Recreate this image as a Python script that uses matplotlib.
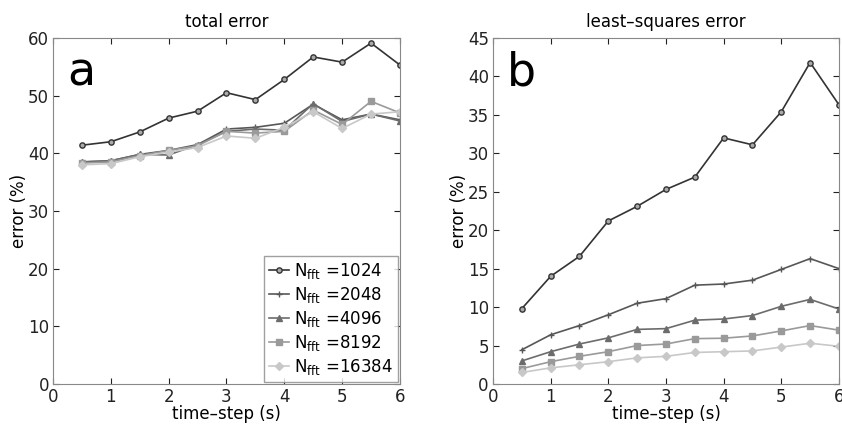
import matplotlib
matplotlib.use("Agg")
import matplotlib.pyplot as plt

t = [0.5, 1, 1.5, 2, 2.5, 3, 3.5, 4, 4.5, 5, 5.5, 6]
nfft = [1024, 2048, 4096, 8192, 16384]

total_1024 = [41.4, 42.0, 43.7, 46.1, 47.3, 50.5, 49.3, 52.8, 56.7, 55.8, 59.1, 55.3]
total_2048 = [38.5, 38.7, 39.8, 40.5, 41.5, 44.2, 44.5, 45.2, 48.5, 45.8, 46.8, 45.8]
total_4096 = [38.5, 38.7, 39.8, 39.7, 41.5, 43.8, 44.2, 44.0, 48.6, 45.5, 46.8, 45.6]
total_8192 = [38.3, 38.5, 39.6, 40.5, 41.3, 43.8, 43.5, 43.8, 47.5, 45.0, 49.0, 47.0]
total_16384 = [38.0, 38.2, 39.4, 40.2, 41.0, 43.0, 42.6, 44.5, 47.2, 44.3, 46.8, 47.2]

ls_1024 = [9.8, 14.0, 16.6, 21.2, 23.1, 25.3, 26.9, 32.0, 31.1, 35.4, 41.8, 36.3]
ls_2048 = [4.45, 6.4, 7.6, 9.0, 10.5, 11.1, 12.85, 13.0, 13.5, 14.9, 16.3, 15.0]
ls_4096 = [3.0, 4.2, 5.2, 6.0, 7.1, 7.2, 8.3, 8.45, 8.9, 10.1, 11.0, 9.75]
ls_8192 = [2.0, 2.9, 3.6, 4.2, 5.0, 5.2, 5.9, 5.95, 6.25, 6.9, 7.6, 7.0]
ls_16384 = [1.5, 2.1, 2.5, 2.9, 3.4, 3.6, 4.1, 4.2, 4.3, 4.8, 5.3, 4.9]

total = [total_1024, total_2048, total_4096, total_8192, total_16384]
lsq = [ls_1024, ls_2048, ls_4096, ls_8192, ls_16384]

COLORS = ["#333333", "#575757", "#6c6c6c", "#9a9a9a", "#c8c8c8"]
MARKERS = ["o", "+", "^", "s", "D"]

fig = plt.figure(figsize=(8.42, 4.26), dpi=100)
ax1 = fig.add_axes([0.063, 0.0986, 0.412, 0.8124])
ax2 = fig.add_axes([0.5855, 0.0986, 0.4109, 0.8124])


def _panel(ax, data, title, letter, ymax, yticks):
    for vals, n, c, m in zip(data, nfft, COLORS, MARKERS):
        ax.plot(t, vals, color=c, marker=m, ms=3.8, mfc="#aaaaaa" if m == "o" else c, mec=c,
                lw=1.2, label=r"N$_{\mathrm{fft}}$ =" + str(n))
    ax.set_xlim(0, 6); ax.set_ylim(0, ymax)
    ax.set_xticks(range(7)); ax.set_yticks(yticks)
    ax.tick_params(direction="in", top=True, right=True, labelsize=12, colors="#222222",
                   length=4, pad=3)
    for s in ax.spines.values():
        s.set_color("#888888")
    ax.set_title(title, fontsize=12, pad=8)
    ax.set_xlabel("time\u2013step (s)", fontsize=12, labelpad=-1)
    ax.set_ylabel("error (%)", fontsize=12, labelpad=0)
    ax.text(0.04, 0.965, letter, transform=ax.transAxes, fontsize=33, va="top", ha="left")


_panel(ax1, total, "total error", "a", 60, range(0, 61, 10))
_panel(ax2, lsq, "least\u2013squares error", "b", 45, range(0, 46, 5))
ax1.legend(loc="lower right", fontsize=12, handlelength=1.2, handletextpad=0.3,
           labelspacing=0.25, borderpad=0.3, fancybox=False, edgecolor="#888888",
           borderaxespad=0.1)

fig.savefig("out.png", dpi=100)
